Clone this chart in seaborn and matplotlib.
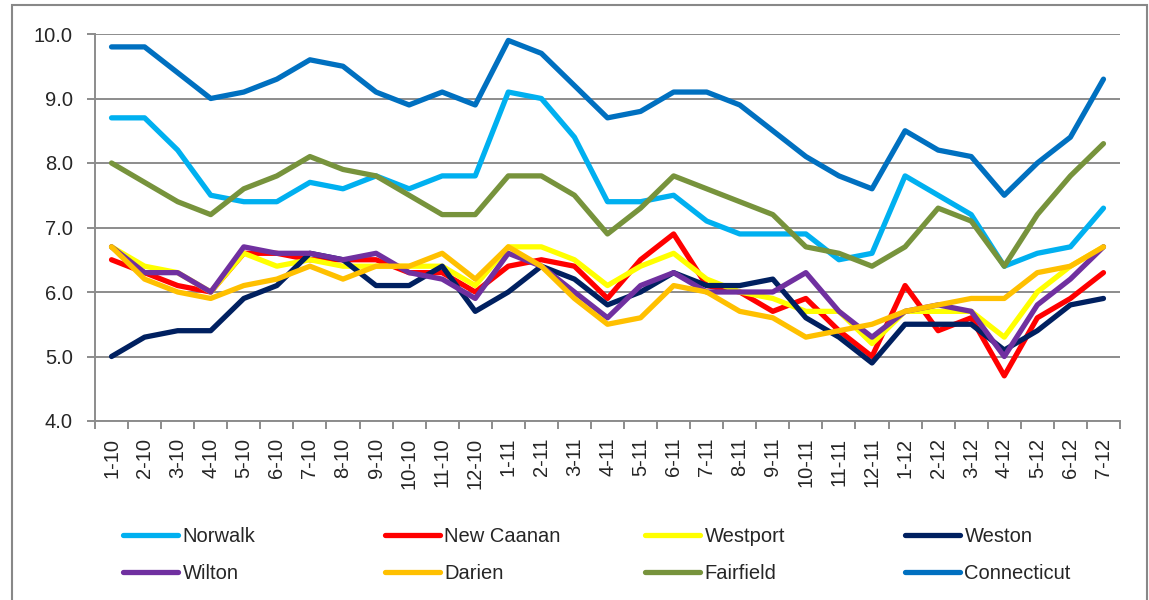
import numpy as np
import pandas as pd
import matplotlib.pyplot as plt
import seaborn as sns
from matplotlib.lines import Line2D
from matplotlib.patches import Rectangle

# month labels (month-year)
months = ['1-10', '2-10', '3-10', '4-10', '5-10', '6-10', '7-10', '8-10', '9-10', '10-10', '11-10', '12-10',
          '1-11', '2-11', '3-11', '4-11', '5-11', '6-11', '7-11', '8-11', '9-11', '10-11', '11-11', '12-11',
          '1-12', '2-12', '3-12', '4-12', '5-12', '6-12', '7-12']

norwalk = [8.7, 8.7, 8.2, 7.5, 7.4, 7.4, 7.7, 7.6, 7.8, 7.6, 7.8, 7.8,
           9.1, 9.0, 8.4, 7.4, 7.4, 7.5, 7.1, 6.9, 6.9, 6.9, 6.5, 6.6,
           7.8, 7.5, 7.2, 6.4, 6.6, 6.7, 7.3]
new_caanan = [6.5, 6.3, 6.1, 6.0, 6.6, 6.6, 6.5, 6.5, 6.5, 6.3, 6.3, 6.0,
              6.4, 6.5, 6.4, 5.9, 6.5, 6.9, 6.1, 6.0, 5.7, 5.9, 5.4, 5.0,
              6.1, 5.4, 5.6, 4.7, 5.6, 5.9, 6.3]
westport = [6.7, 6.4, 6.3, 6.0, 6.6, 6.4, 6.5, 6.4, 6.4, 6.4, 6.4, 6.1,
            6.7, 6.7, 6.5, 6.1, 6.4, 6.6, 6.2, 6.0, 5.9, 5.7, 5.7, 5.2,
            5.7, 5.7, 5.7, 5.3, 6.0, 6.4, 6.7]
weston = [5.0, 5.3, 5.4, 5.4, 5.9, 6.1, 6.6, 6.5, 6.1, 6.1, 6.4, 5.7,
          6.0, 6.4, 6.2, 5.8, 6.0, 6.3, 6.1, 6.1, 6.2, 5.6, 5.3, 4.9,
          5.5, 5.5, 5.5, 5.1, 5.4, 5.8, 5.9]
wilton = [6.7, 6.3, 6.3, 6.0, 6.7, 6.6, 6.6, 6.5, 6.6, 6.3, 6.2, 5.9,
          6.6, 6.4, 6.0, 5.6, 6.1, 6.3, 6.0, 6.0, 6.0, 6.3, 5.7, 5.3,
          5.7, 5.8, 5.7, 5.0, 5.8, 6.2, 6.7]
darien = [6.7, 6.2, 6.0, 5.9, 6.1, 6.2, 6.4, 6.2, 6.4, 6.4, 6.6, 6.2,
          6.7, 6.4, 5.9, 5.5, 5.6, 6.1, 6.0, 5.7, 5.6, 5.3, 5.4, 5.5,
          5.7, 5.8, 5.9, 5.9, 6.3, 6.4, 6.7]
fairfield = [8.0, 7.7, 7.4, 7.2, 7.6, 7.8, 8.1, 7.9, 7.8, 7.5, 7.2, 7.2,
             7.8, 7.8, 7.5, 6.9, 7.3, 7.8, 7.6, 7.4, 7.2, 6.7, 6.6, 6.4,
             6.7, 7.3, 7.1, 6.4, 7.2, 7.8, 8.3]
connecticut = [9.8, 9.8, 9.4, 9.0, 9.1, 9.3, 9.6, 9.5, 9.1, 8.9, 9.1, 8.9,
               9.9, 9.7, 9.2, 8.7, 8.8, 9.1, 9.1, 8.9, 8.5, 8.1, 7.8, 7.6,
               8.5, 8.2, 8.1, 7.5, 8.0, 8.4, 9.3]

towns = ['Norwalk', 'New Caanan', 'Westport', 'Weston', 'Wilton', 'Darien', 'Fairfield', 'Connecticut']
colors = ['#00B0F0', '#FF0000', '#FFFF00', '#002060', '#7030A0', '#FFC000', '#77933C', '#0070C0']
yticks = [4.0, 5.0, 6.0, 7.0, 8.0, 9.0, 10.0]

df = pd.DataFrame({'Month': months, 'Norwalk': norwalk, 'New Caanan': new_caanan,
                   'Westport': westport, 'Weston': weston, 'Wilton': wilton,
                   'Darien': darien, 'Fairfield': fairfield, 'Connecticut': connecticut})
long_df = df.melt(id_vars='Month', var_name='Town', value_name='Rate')

sns.set_style('white')
plt.rcParams['font.family'] = ['Liberation Sans', 'DejaVu Sans']
grey = '#8c8c8c'
fs = 14.5
lw = 3.8

fig = plt.figure(figsize=(11.49, 6), dpi=100)
ax = fig.add_axes([95 / 1149, 1 - 421 / 600, (1120 - 95) / 1149, (421 - 34) / 600])

sns.lineplot(data=long_df, x='Month', y='Rate', hue='Town', hue_order=towns,
             palette=colors, linewidth=lw, sort=False, legend=False, ax=ax,
             solid_capstyle='round', solid_joinstyle='round')

ax.set_xlim(-0.5, len(months) - 0.5)
ax.set_ylim(4, 10)
ax.set_yticks(yticks)
ax.set_yticklabels([f'{v:.1f}' for v in yticks])
ax.set_xticks(range(len(months)))
ax.set_xticklabels(months, rotation=90)
ax.set_xticks(np.arange(-0.5, len(months), 1), minor=True)
ax.set_xlabel('')
ax.set_ylabel('')

ax.yaxis.grid(True, color=grey, linewidth=1.4)
ax.xaxis.grid(False)
ax.set_axisbelow(True)
for s in ['top', 'right']:
    ax.spines[s].set_visible(False)
for s in ['left', 'bottom']:
    ax.spines[s].set_color(grey)
    ax.spines[s].set_linewidth(1.4)

ax.tick_params(axis='y', left=True, length=6, width=1.4, color=grey, pad=10, labelsize=fs)
ax.tick_params(axis='x', which='major', bottom=False, length=0, pad=12, labelsize=fs)
ax.tick_params(axis='x', which='minor', bottom=True, length=6, width=1.4, color=grey)

# legend: 4 columns x 2 rows, placed like the original
col_x = [123, 385, 645, 905]
for c in range(4):
    idx = [c, c + 4]
    handles = [Line2D([0], [0], color=colors[i], linewidth=lw, solid_capstyle='round') for i in idx]
    fig.legend(handles, [towns[i] for i in idx], loc='center left',
               bbox_to_anchor=(col_x[c] / 1149, 1 - 555 / 600), frameon=False,
               borderpad=0, borderaxespad=0, handlelength=2.75, handletextpad=0.2,
               labelspacing=0.9, fontsize=fs)

# outer chart border
fig.add_artist(Rectangle((12 / 1149, -0.05), (1147 - 12) / 1149, 1 - 5 / 600 + 0.05,
                         transform=fig.transFigure, fill=False, edgecolor='#888888', linewidth=1.5))

fig.savefig('out.png', dpi=100)
